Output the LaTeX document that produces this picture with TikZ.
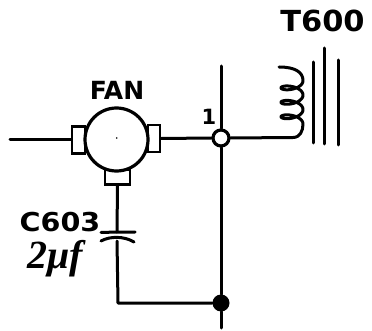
\documentclass[tikz,border=0pt]{standalone}
\usepackage{fontspec}
\setmainfont{DejaVu Sans}
\newfontfamily\handfont{Liberation Serif}
\tikzset{
  wire/.style={line width=3pt,line cap=round,line join=round},
  stub/.style={draw,fill=white,line width=2.8pt,minimum width=#1,inner sep=0pt},
  lab/.style={inner sep=0pt,anchor=center}
}
\begin{document}
\begin{tikzpicture}[x=1pt,y=-1pt]
\useasboundingbox (0,0) rectangle (372,331);
\coordinate (leftend) at (10,140);
\coordinate (busTop) at (221,66);
\coordinate (busBot) at (221,328);
\coordinate (coilIn) at (293,137.5);
\coordinate (coilOut) at (279,67);
\coordinate (capTop) at (117,232);
\coordinate (capBot) at (117,241);
\coordinate (corner) at (118,303);
\node[stub=13pt,minimum height=27pt] (sl) at (78.5,140) {};
\node[stub=12pt,minimum height=27pt] (sr) at (154,138.5) {};
\node[stub=25pt,minimum height=15pt] (sb) at (117.5,177) {};
\node[circle,draw,fill=white,line width=3.2pt,minimum size=63pt,inner sep=0pt] (fan) at (116.5,139.5) {};
\fill (116.7,138) circle (0.8pt);
\node[circle,draw,fill=white,line width=3.2pt,minimum size=16pt,inner sep=0pt] (j1) at (221,138) {};
\node[circle,fill=black,minimum size=17pt,inner sep=0pt] (j2) at (221,303) {};
% wires
\draw[wire] (leftend) -- (sl.west);
\draw[wire] (sr.east) -- (j1.west);
\draw[wire] (busTop) -- (j1.north);
\draw[wire] (j1.south) -- (j2.north);
\draw[wire] (j2.south) -- (busBot);
\draw[wire] (sb.south) -- (capTop);
\draw[wire] (capBot) -- (corner) -- (j2.west);
% capacitor
\draw[wire] (101,232.5) -- (capTop) -- (135,232);
\draw[wire] (101,241) .. controls (110,236) and (124,236) .. (134,242);
% coil
\draw[wire] (j1.east) -- (coilIn) .. controls (300,137.5) and (303,131) .. (303,124)
  -- plot[domain=0:18.85,samples=140,smooth] ({292+11*cos(\x r)},{124-2.3*\x-5*sin(\x r)})
  .. controls (303,72) and (295,67) .. (coilOut);
% core
\draw[wire] (313,62) -- (313,143);
\draw[wire] (324,48) -- (324,144);
\draw[wire] (338,60) -- (338,145);
% labels
\node[lab,xscale=1.05] (t600) at (322.5,20.5) {\fontsize{29}{29}\selectfont\bfseries T600};
\node[lab] (fanlab) at (117,90) {\fontsize{25}{25}\selectfont\bfseries FAN};
\node[lab] (one) at (209,117) {\fontsize{21}{21}\selectfont\bfseries 1};
\node[lab,xscale=1.1] (c603) at (60,222) {\fontsize{26}{26}\selectfont\bfseries C603};
\node[lab] (cval) at (55,259) {\handfont\fontsize{40}{40}\selectfont\itshape\bfseries 2μf};
\end{tikzpicture}
\end{document}
